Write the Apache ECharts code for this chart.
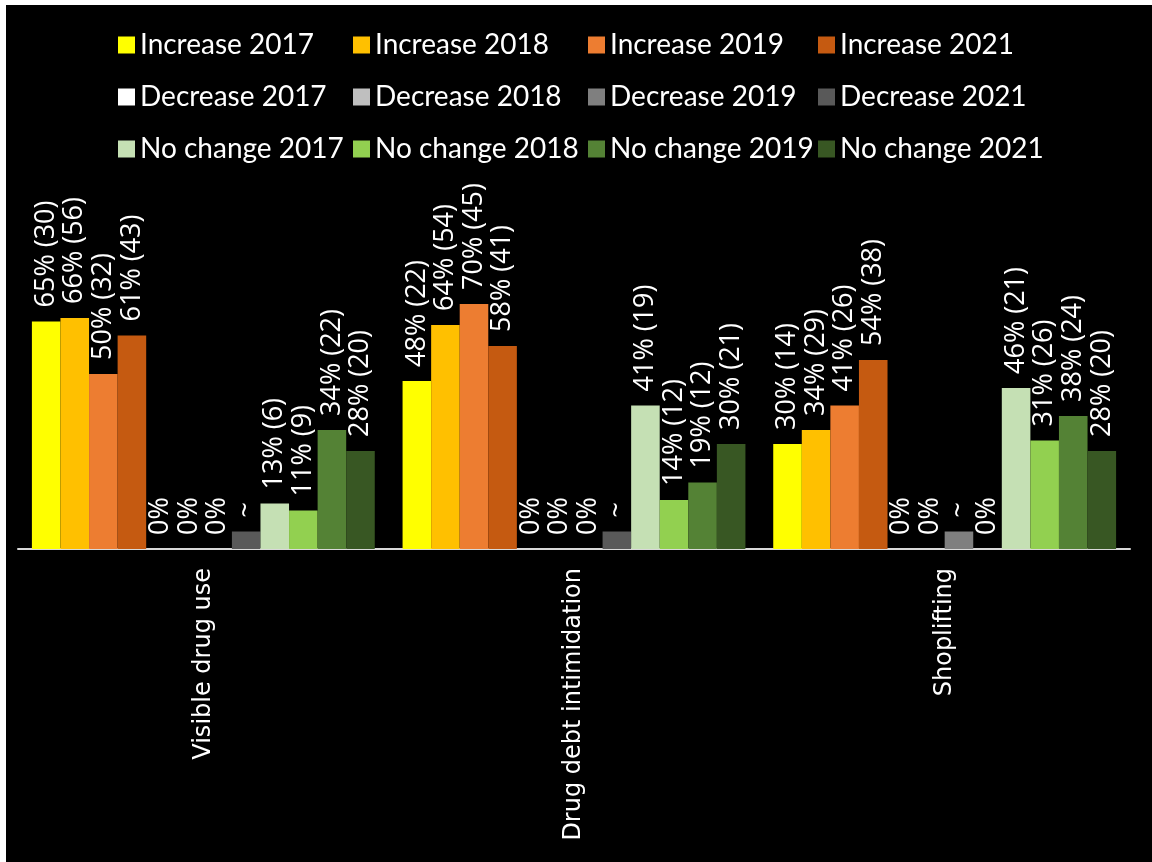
<!DOCTYPE html>
<html>
<head>
<meta charset="utf-8">
<script src="https://cdn.jsdelivr.net/npm/echarts@6/dist/echarts.min.js"></script>
<style>
  html, body { margin: 0; padding: 0; background: #ffffff; width: 1152px; height: 862px; overflow: hidden; }
  #chart { position: absolute; left: 6px; top: 5px; width: 1146px; height: 857px; }
</style>
</head>
<body>
<div id="chart"></div>
<script>
// Categories on the x axis
const categories = ['Visible drug use', 'Drug debt intimidation', 'Shoplifting'];

// Percent of respondents reporting an increase, with respondent counts
const increase2017 = [65, 48, 30];
const increase2017Counts = [30, 22, 14];
const increase2018 = [66, 64, 34];
const increase2018Counts = [56, 54, 29];
const increase2019 = [50, 70, 41];
const increase2019Counts = [32, 45, 26];
const increase2021 = [61, 58, 54];
const increase2021Counts = [43, 41, 38];

// Decrease: small suppressed values are shown as "~"
const decrease2017 = [0, 0, 0];
const decrease2017Labels = ['0%', '0%', '0%'];
const decrease2018 = [0, 0, 0];
const decrease2018Labels = ['0%', '0%', '0%'];
const decrease2019 = [0, 0, 5];
const decrease2019Labels = ['0%', '0%', '~'];
const decrease2021 = [5, 5, 0];
const decrease2021Labels = ['~', '~', '0%'];

// No change
const noChange2017 = [13, 41, 46];
const noChange2017Counts = [6, 19, 21];
const noChange2018 = [11, 14, 31];
const noChange2018Counts = [9, 12, 26];
const noChange2019 = [34, 19, 38];
const noChange2019Counts = [22, 12, 24];
const noChange2021 = [28, 30, 28];
const noChange2021Counts = [20, 21, 20];

const pctCount = (vals, counts) => vals.map((v, i) => v + '% (' + counts[i] + ')');

const seriesDefs = [
  { name: 'Increase 2017', values: increase2017, labels: pctCount(increase2017, increase2017Counts), color: '#FFFF00' },
  { name: 'Increase 2018', values: increase2018, labels: pctCount(increase2018, increase2018Counts), color: '#FFC000' },
  { name: 'Increase 2019', values: increase2019, labels: pctCount(increase2019, increase2019Counts), color: '#ED7D31' },
  { name: 'Increase 2021', values: increase2021, labels: pctCount(increase2021, increase2021Counts), color: '#C55A11' },
  { name: 'Decrease 2017', values: decrease2017, labels: decrease2017Labels, color: '#FFFFFF' },
  { name: 'Decrease 2018', values: decrease2018, labels: decrease2018Labels, color: '#BFBFBF' },
  { name: 'Decrease 2019', values: decrease2019, labels: decrease2019Labels, color: '#7F7F7F' },
  { name: 'Decrease 2021', values: decrease2021, labels: decrease2021Labels, color: '#595959' },
  { name: 'No change 2017', values: noChange2017, labels: pctCount(noChange2017, noChange2017Counts), color: '#C5E0B4' },
  { name: 'No change 2018', values: noChange2018, labels: pctCount(noChange2018, noChange2018Counts), color: '#92D050' },
  { name: 'No change 2019', values: noChange2019, labels: pctCount(noChange2019, noChange2019Counts), color: '#548235' },
  { name: 'No change 2021', values: noChange2021, labels: pctCount(noChange2021, noChange2021Counts), color: '#385723' }
];

// Legend grid: 4 columns x 3 rows, one legend component per entry
const legendColumns = [112, 347, 582, 812];
const legendRows = [25, 77, 129];

const legends = seriesDefs.map((s, i) => ({
  data: [s.name],
  left: legendColumns[i % 4],
  top: legendRows[Math.floor(i / 4)],
  padding: 0,
  selectedMode: false,
  icon: 'rect',
  itemWidth: 17,
  itemHeight: 17,
  textStyle: {
    color: '#FFFFFF',
    fontFamily: "'Lato'",
    fontSize: 28,
    lineHeight: 30
  }
}));

const chart = echarts.init(document.getElementById('chart'), null, { renderer: 'canvas' });

chart.setOption({
  backgroundColor: '#000000',
  animation: false,
  legend: legends,
  grid: { left: 12, right: 22, top: 194, bottom: 313, containLabel: false },
  xAxis: {
    type: 'category',
    data: categories,
    axisLine: { show: true, lineStyle: { color: '#D9D9D9', width: 2 } },
    axisTick: { show: false },
    axisLabel: {
      rotate: 90,
      margin: 19,
      color: '#FFFFFF',
      fontFamily: "'DejaVu Sans'",
      fontSize: 24
    }
  },
  yAxis: {
    type: 'value',
    min: 0,
    max: 100,
    show: false,
    splitLine: { show: false }
  },
  series: seriesDefs.map(s => ({
    name: s.name,
    type: 'bar',
    data: s.values,
    barGap: '0%',
    barCategoryGap: '7.5%',
    itemStyle: { color: s.color },
    label: {
      show: true,
      position: 'top',
      distance: 14,
      rotate: 90,
      align: 'left',
      verticalAlign: 'middle',
      color: '#FFFFFF',
      fontFamily: "'Open Sans'",
      fontSize: 27,
      formatter: p => s.labels[p.dataIndex]
    }
  }))
});
</script>
</body>
</html>
